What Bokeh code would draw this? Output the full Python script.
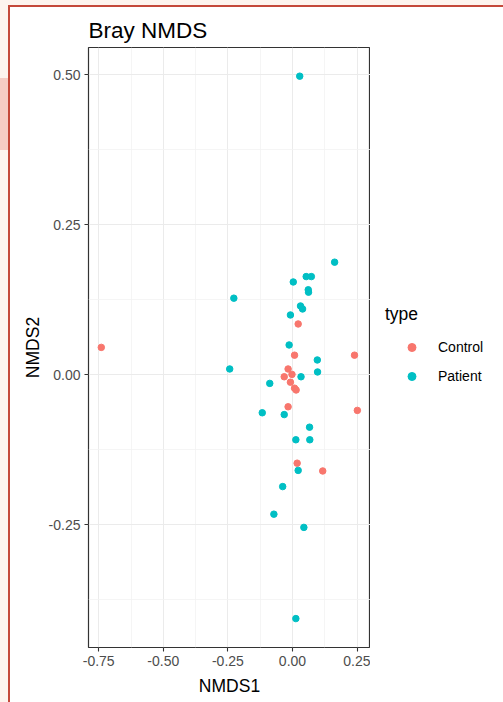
from bokeh.plotting import figure
from bokeh.models import FixedTicker, Legend, LegendItem, Range1d
from bokeh.layouts import row
from bokeh.embed import file_html
from bokeh.resources import INLINE

# ---- data ----
patient_x = [0.163, 0.053, 0.073, 0.003, 0.061, 0.062, -0.227, 0.031, 0.039, -0.008,
             -0.013, 0.096, -0.243, 0.097, 0.033, -0.088, -0.117, -0.032, 0.066, 0.013,
             0.067, 0.022, -0.038, -0.072, 0.044, 0.013, 0.028]
patient_y = [0.188, 0.164, 0.164, 0.155, 0.142, 0.138, 0.128, 0.115, 0.110, 0.100,
             0.050, 0.025, 0.010, 0.005, -0.003, -0.014, -0.063, -0.066, -0.087, -0.108,
             -0.108, -0.159, -0.186, -0.232, -0.254, -0.406, 0.498]
control_x = [-0.740, 0.022, 0.008, 0.240, -0.017, -0.002, -0.032, -0.008, 0.008, 0.014,
             -0.017, 0.251, 0.018, 0.117]
control_y = [0.046, 0.085, 0.033, 0.033, 0.010, 0.001, -0.003, -0.012, -0.022, -0.025,
             -0.053, -0.059, -0.147, -0.160]

groups = ["Control", "Patient"]
x_ticks = [-0.75, -0.5, -0.25, 0.0, 0.25]
x_minor = [-0.625, -0.375, -0.125, 0.125]
y_ticks = [-0.25, 0.0, 0.25, 0.5]
y_minor = [-0.375, -0.125, 0.125, 0.375]
tick_labels_x = {-0.75: "-0.75", -0.5: "-0.50", -0.25: "-0.25", 0.0: "0.00", 0.25: "0.25"}
tick_labels_y = {-0.25: "-0.25", 0.0: "0.00", 0.25: "0.25", 0.5: "0.50"}

FONT = "Liberation Sans"
CTRL = "#F8766D"
PAT = "#00BFC4"
RED = "#C4493A"
CREAM = "#FDF4EE"
PINK = "#F6CDC4"

p = figure(width=370, height=702, output_backend="svg", toolbar_location=None,
           x_range=Range1d(-0.7895, 0.3019), y_range=Range1d(-0.4542, 0.5458),
           min_border_left=88, min_border_right=0, min_border_top=47, min_border_bottom=55,
           title="Bray NMDS")

p.background_fill_color = "white"
p.border_fill_color = None
p.outline_line_color = "#333333"
p.outline_line_width = 1.2

# title
p.title.text_font = FONT
p.title.text_font_size = "22.5px"
p.title.text_font_style = "normal"
p.title.text_color = "black"
p.title.align = "left"
p.title.offset = 0
p.title.standoff = 9

# axes
for ax, ticks, minor, labels in ((p.xaxis[0], x_ticks, x_minor, tick_labels_x),
                                 (p.yaxis[0], y_ticks, y_minor, tick_labels_y)):
    ax.ticker = FixedTicker(ticks=ticks, minor_ticks=minor)
    ax.major_label_overrides = labels
    ax.axis_line_color = None
    ax.major_tick_line_color = "#333333"
    ax.major_tick_line_width = 1.1
    ax.major_tick_out = 4
    ax.major_tick_in = 0
    ax.minor_tick_line_color = None
    ax.major_label_text_font = FONT
    ax.major_label_text_font_size = "14px"
    ax.major_label_text_color = "#4D4D4D"
    ax.axis_label_text_font = FONT
    ax.axis_label_text_font_size = "17.5px"
    ax.axis_label_text_font_style = "normal"
    ax.axis_label_text_color = "black"

p.xaxis.axis_label = "NMDS1"
p.yaxis.axis_label = "NMDS2"
p.xaxis.major_label_standoff = 4
p.xaxis.axis_label_standoff = 7
p.yaxis.major_label_standoff = 4
p.yaxis.axis_label_standoff = 3

# grid
for g in (p.xgrid[0], p.ygrid[0]):
    g.grid_line_color = "#EBEBEB"
    g.grid_line_width = 1
    g.minor_grid_line_color = "#F2F2F2"
    g.minor_grid_line_width = 0.8

# points
p.scatter(control_x, control_y, size=6.5, color=CTRL, line_color=CTRL)
p.scatter(patient_x, patient_y, size=6.5, color=PAT, line_color=PAT)

# legend panel (separate, axis-free figure at the right of the plot); its
# key renderers hold the same data but lie outside this panel's view
lg = figure(width=133, height=702, output_backend="svg", toolbar_location=None,
            x_range=Range1d(10, 11), y_range=Range1d(10, 11),
            min_border=0, x_axis_location=None, y_axis_location=None)
lg.grid.visible = False
lg.outline_line_color = None
lg.background_fill_color = None
lg.border_fill_color = None
k_ctrl = lg.scatter(control_x, control_y, size=6.5, color=CTRL, line_color=CTRL)
k_pat = lg.scatter(patient_x, patient_y, size=6.5, color=PAT, line_color=PAT)

legend = Legend(items=[LegendItem(label=groups[0], renderers=[k_ctrl]),
                       LegendItem(label=groups[1], renderers=[k_pat])],
                location=(15, 261), title="type",
                title_text_font=FONT, title_text_font_size="17.5px", title_text_color="black",
                title_text_font_style="normal", title_standoff=12,
                label_text_font=FONT, label_text_font_size="14px", label_text_color="black",
                glyph_width=53, glyph_height=20, label_height=20, label_standoff=0,
                spacing=9, padding=0, margin=0,
                border_line_color=None, background_fill_alpha=0)
lg.add_layout(legend, "center")

# screenshot frame decorations painted behind the transparent canvases
layers = [
    f"linear-gradient({RED},{RED}) 8px 5px / 2px 697px no-repeat",
    f"linear-gradient({RED},{RED}) 8px 5px / 495px 2px no-repeat",
    f"linear-gradient({PINK},{PINK}) 0px 78px / 8px 72px no-repeat",
    f"linear-gradient({CREAM},{CREAM}) 0px 0px / 8px 702px no-repeat",
    f"linear-gradient({CREAM},{CREAM}) 0px 0px / 503px 5px no-repeat",
    "white",
]
layout = row(p, lg, spacing=0, styles={"background": ", ".join(layers)})

open("out.html", "w").write(file_html(layout, INLINE))
